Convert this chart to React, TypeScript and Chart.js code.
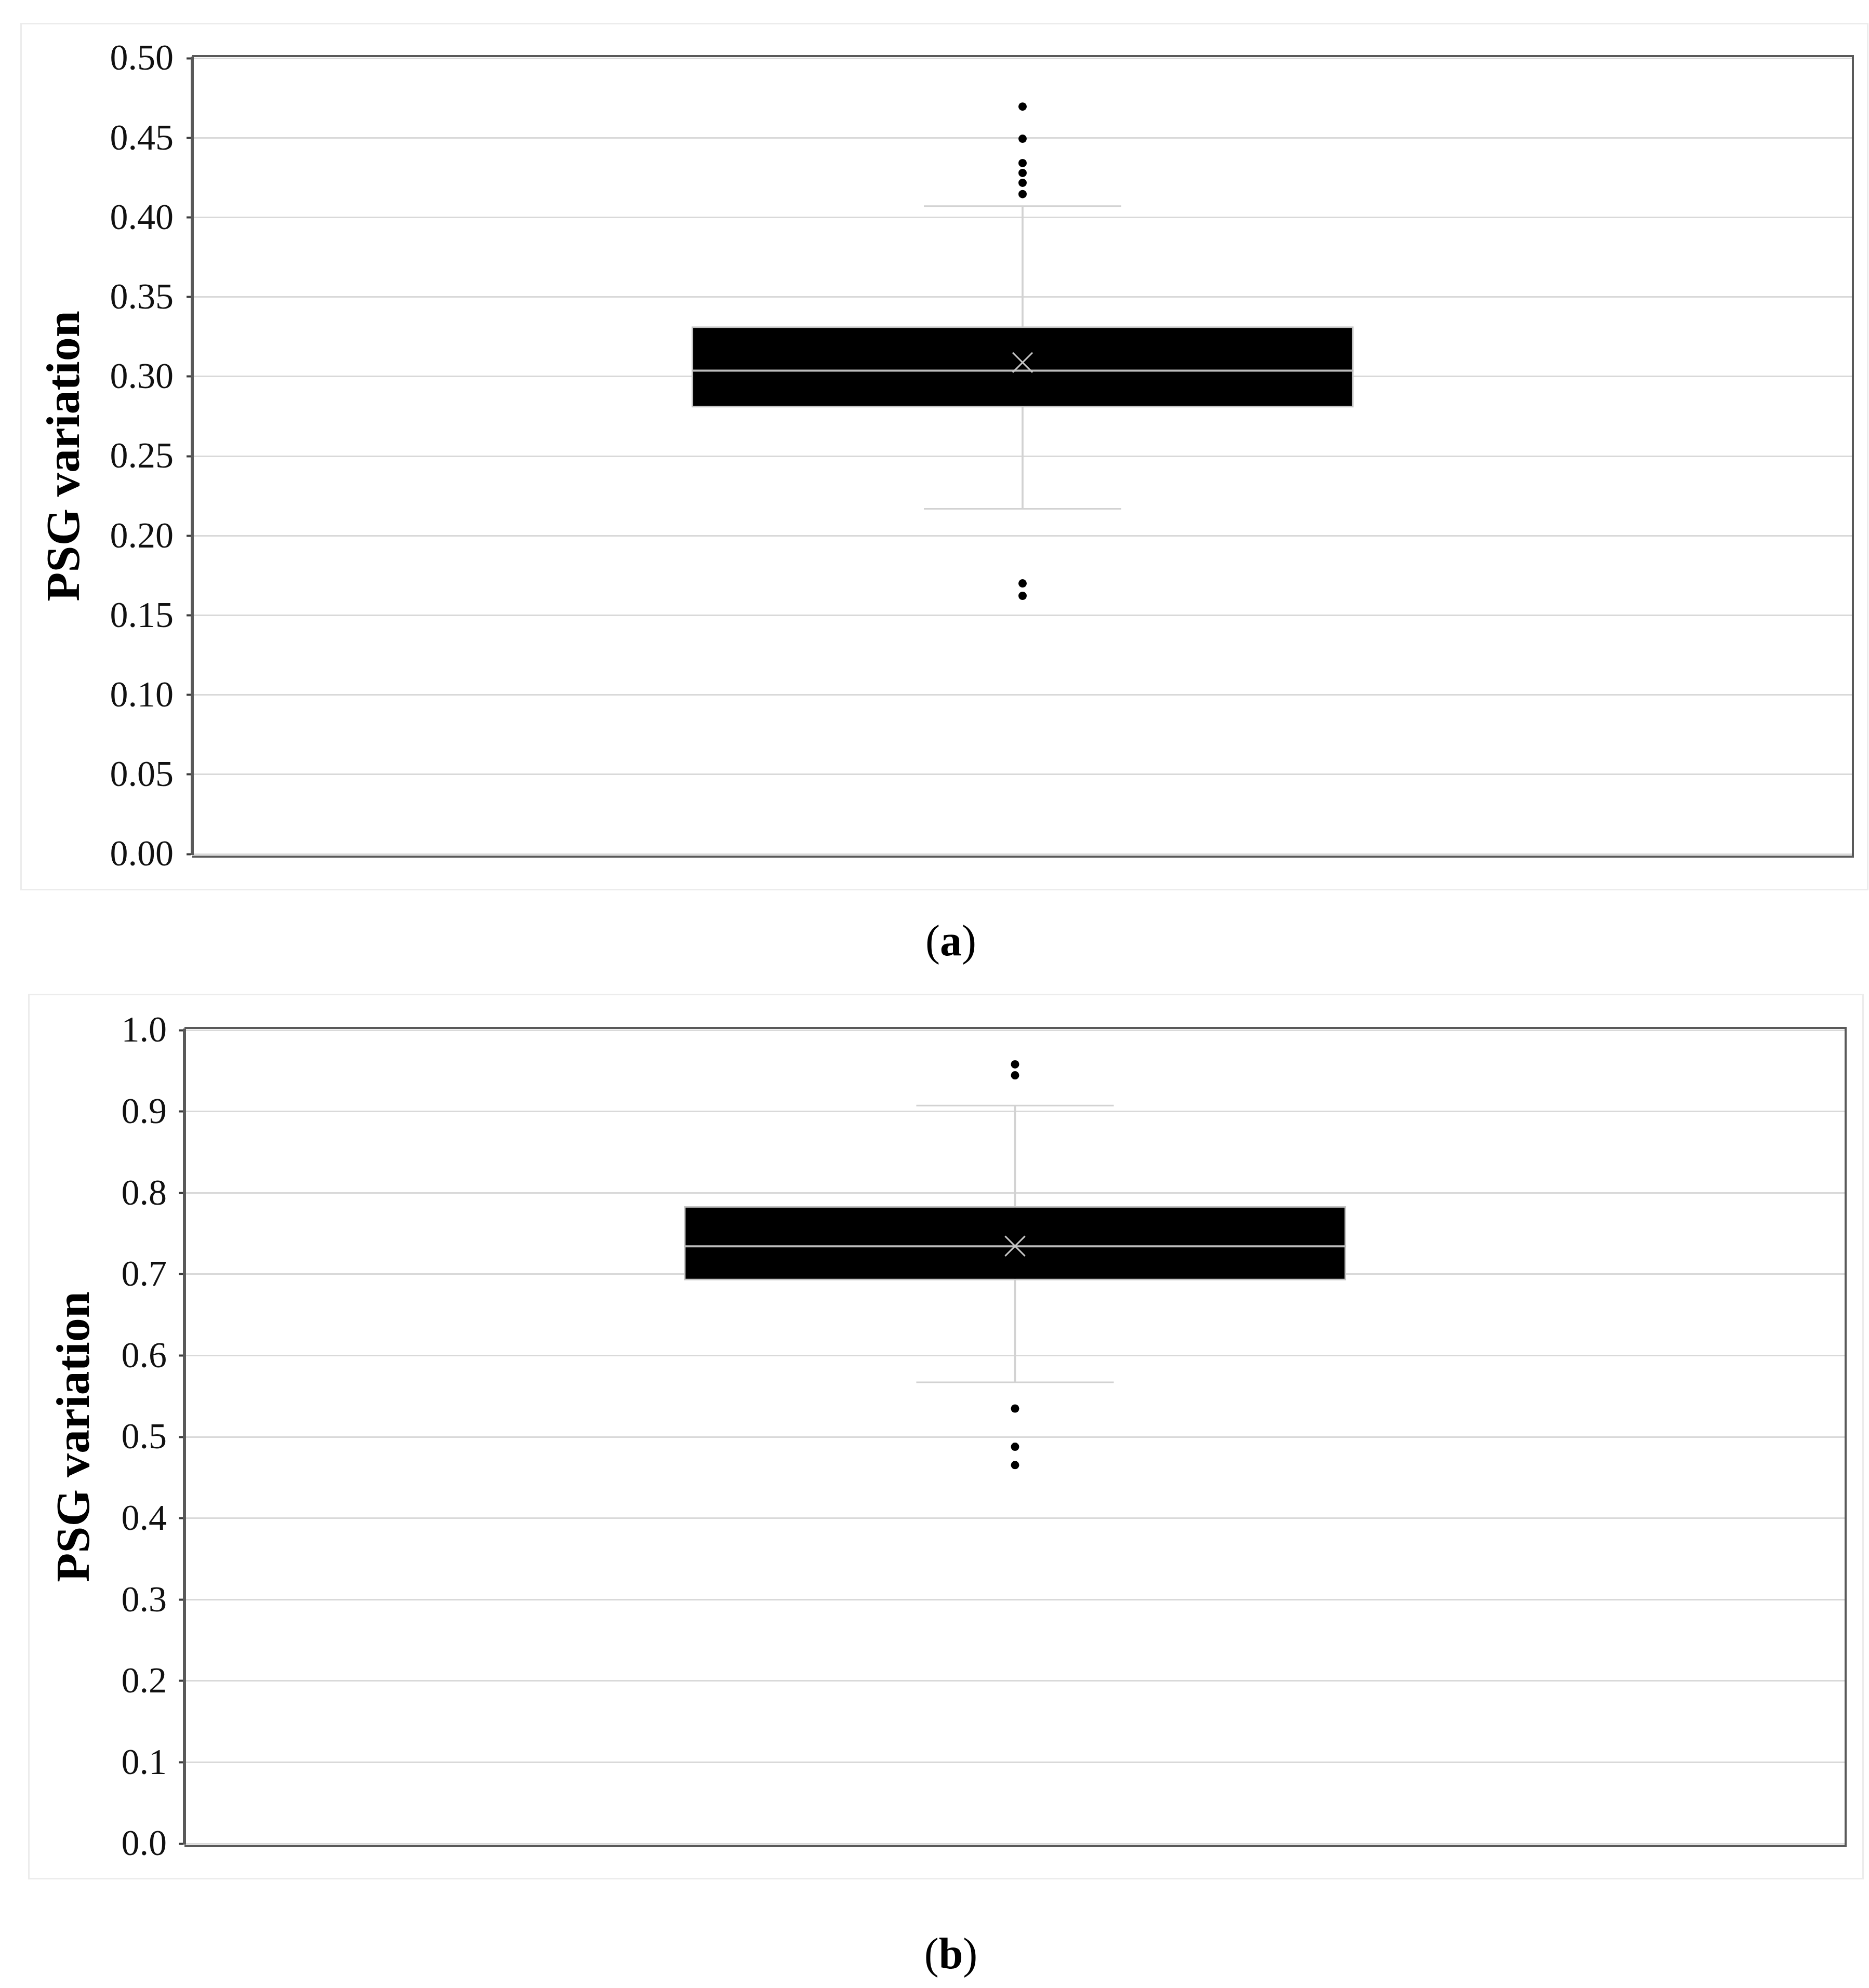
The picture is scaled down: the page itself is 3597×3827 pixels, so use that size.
import React, { useEffect, useRef } from 'react';
import { Chart, registerables } from 'chart.js';

Chart.register(...registerables);

// ---------- data ----------
const categories = ['PSG variation'];
const yTitle = 'PSG variation';

// (a)
const aTickValues = [0, 0.05, 0.1, 0.15, 0.2, 0.25, 0.3, 0.35, 0.4, 0.45, 0.5];
const aBox = [0.2805, 0.3315];
const aMedian = [0.3037];
const aMean = [0.3088];
const aWhiskers = [0.2169, 0.4071];
const aOutliers = [0.4696, 0.4494, 0.4341, 0.4279, 0.4217, 0.4146, 0.17, 0.1622];

// (b)
const bTickValues = [0, 0.1, 0.2, 0.3, 0.4, 0.5, 0.6, 0.7, 0.8, 0.9, 1.0];
const bBox = [0.6923, 0.7837];
const bMedian = [0.7342];
const bMean = [0.7345];
const bWhiskers = [0.567, 0.9073];
const bOutliers = [0.9579, 0.9444, 0.5348, 0.4878, 0.4653];

// ---------- styles ----------
const FONT = 'Liberation Serif';
const BOX_FRAC = 0.3986;
const CAP_FRAC = 0.1189;

const framePlugin = {
  id: 'frame',
  afterDraw(chart: any, _args: any, opts: any) {
    const { ctx, chartArea } = chart;
    if (!chartArea) return;
    const { left, top, right, bottom } = chartArea;
    ctx.save();
    ctx.strokeStyle = opts.color;
    ctx.lineWidth = opts.width;
    ctx.beginPath();
    ctx.moveTo(left, top + opts.dTop);
    ctx.lineTo(right + opts.dRight, top + opts.dTop);
    ctx.lineTo(right + opts.dRight, bottom + opts.dBottom);
    ctx.lineTo(left, bottom + opts.dBottom);
    ctx.stroke();
    ctx.restore();
  },
};

type Props = {
  left: number; top: number; width: number; height: number;
  padTop: number; padRight: number; padBottom: number;
  axisWidth: number; titlePad: number; tickPad: number;
  tickValues: number[]; decimals: number;
  box: number[]; median: number[]; mean: number[]; whiskers: number[]; outliers: number[];
};

const areaFrac = (frac: number) => (c: any) => {
  const a = c.chart.chartArea;
  return a ? ((a.right - a.left) * frac) / 2 : 0;
};

function BoxChart(p: Props) {
  const ref = useRef<HTMLCanvasElement>(null);
  useEffect(() => {
    if (!ref.current) return;
    const cat = categories[0];
    const chart = new Chart(ref.current, {
      type: 'bar',
      data: {
        labels: categories,
        datasets: [
          {
            type: 'bar', label: 'whisker', data: [p.whiskers as any], grouped: false,
            barThickness: 3, backgroundColor: '#d2d2d2', borderWidth: 0, order: 5,
          } as any,
          {
            type: 'line', label: 'caps', data: p.whiskers.map((v) => ({ x: cat, y: v })),
            showLine: false, pointStyle: 'line', pointRadius: areaFrac(CAP_FRAC),
            pointBorderColor: '#d2d2d2', pointBorderWidth: 3, order: 4,
          } as any,
          {
            type: 'bar', label: 'box', data: [p.box as any], grouped: false,
            barPercentage: BOX_FRAC, categoryPercentage: 1, backgroundColor: '#000000',
            borderColor: '#c4c4c4', borderWidth: 3, borderSkipped: false, order: 3,
          } as any,
          {
            type: 'line', label: 'median', data: p.median.map((v) => ({ x: cat, y: v })),
            showLine: false, pointStyle: 'line', pointRadius: areaFrac(BOX_FRAC),
            pointBorderColor: '#bdbdbd', pointBorderWidth: 4, order: 2,
          } as any,
          {
            type: 'line', label: 'outliers', data: p.outliers.map((v) => ({ x: cat, y: v })),
            showLine: false, pointStyle: 'circle', pointRadius: 8,
            pointBackgroundColor: '#000000', pointBorderColor: '#000000', pointBorderWidth: 0, order: 1,
          } as any,
          {
            type: 'line', label: 'mean', data: p.mean.map((v) => ({ x: cat, y: v })),
            showLine: false, pointStyle: 'crossRot', pointRadius: 27,
            pointBorderColor: '#c8c8c8', pointBorderWidth: 3, order: 0,
          } as any,
        ],
      },
      options: {
        responsive: false,
        animation: false,
        devicePixelRatio: 1,
        events: [],
        layout: { padding: { left: 0, top: p.padTop, right: p.padRight, bottom: p.padBottom } },
        plugins: {
          legend: { display: false },
          tooltip: { enabled: false },
          frame: { color: '#595959', width: 4, dTop: -4, dRight: 0, dBottom: 5 },
        } as any,
        scales: {
          x: { type: 'category', display: false, offset: true },
          y: {
            type: 'linear',
            min: p.tickValues[0],
            max: p.tickValues[p.tickValues.length - 1],
            afterBuildTicks: (s: any) => { s.ticks = p.tickValues.map((v) => ({ value: v })); },
            afterFit: (s: any) => { s.width = p.axisWidth; },
            ticks: {
              font: { family: FONT, size: 70 },
              color: '#111111',
              padding: p.tickPad,
              labelOffset: 4,
              callback: (v: any) => Number(v).toFixed(p.decimals),
            },
            grid: { color: '#d9d9d9', lineWidth: 3, tickColor: '#3c3c3c', tickLength: 11, tickWidth: 4 },
            border: { display: true, color: '#595959', width: 6 },
            title: {
              display: true, text: yTitle, color: '#000000',
              font: { family: FONT, size: 92, weight: 'bold' },
              padding: { top: p.titlePad, bottom: 0 },
            },
          } as any,
        },
      },
      plugins: [framePlugin],
    });
    return () => chart.destroy();
  }, []);
  return (
    <>
      <canvas
        ref={ref}
        width={p.width}
        height={p.height}
        style={{ position: 'absolute', left: p.left, top: p.top, width: p.width, height: p.height }}
      />
      <div
        style={{
          position: 'absolute', left: p.left, top: p.top, width: p.width, height: p.height,
          border: '3px solid #ececec', boxSizing: 'border-box', pointerEvents: 'none',
        }}
      />
    </>
  );
}

function Caption({ letter, top }: { letter: string; top: number }) {
  return (
    <div
      style={{
        position: 'absolute', left: 1530, width: 600, top, textAlign: 'center',
        fontFamily: FONT, fontSize: 84, lineHeight: '84px', color: '#000',
      }}
    >
      (<b>{letter}</b>)
    </div>
  );
}

export default function App() {
  return (
    <div style={{ position: 'absolute', left: 0, top: 0, width: 3597, height: 3827, background: '#fff', overflow: 'hidden' }}>
      <BoxChart
        left={39} top={44} width={3557} height={1670}
        padTop={68} padRight={30} padBottom={70}
        axisWidth={331} titlePad={34} tickPad={25}
        tickValues={aTickValues} decimals={2}
        box={aBox} median={aMedian} mean={aMean} whiskers={aWhiskers} outliers={aOutliers}
      />
      <Caption letter="a" top={1769} />
      <BoxChart
        left={54} top={1913} width={3533} height={1705}
        padTop={70} padRight={35} padBottom={69}
        axisWidth={301} titlePad={38} tickPad={23}
        tickValues={bTickValues} decimals={1}
        box={bBox} median={bMedian} mean={bMean} whiskers={bWhiskers} outliers={bOutliers}
      />
      <Caption letter="b" top={3719} />
    </div>
  );
}
